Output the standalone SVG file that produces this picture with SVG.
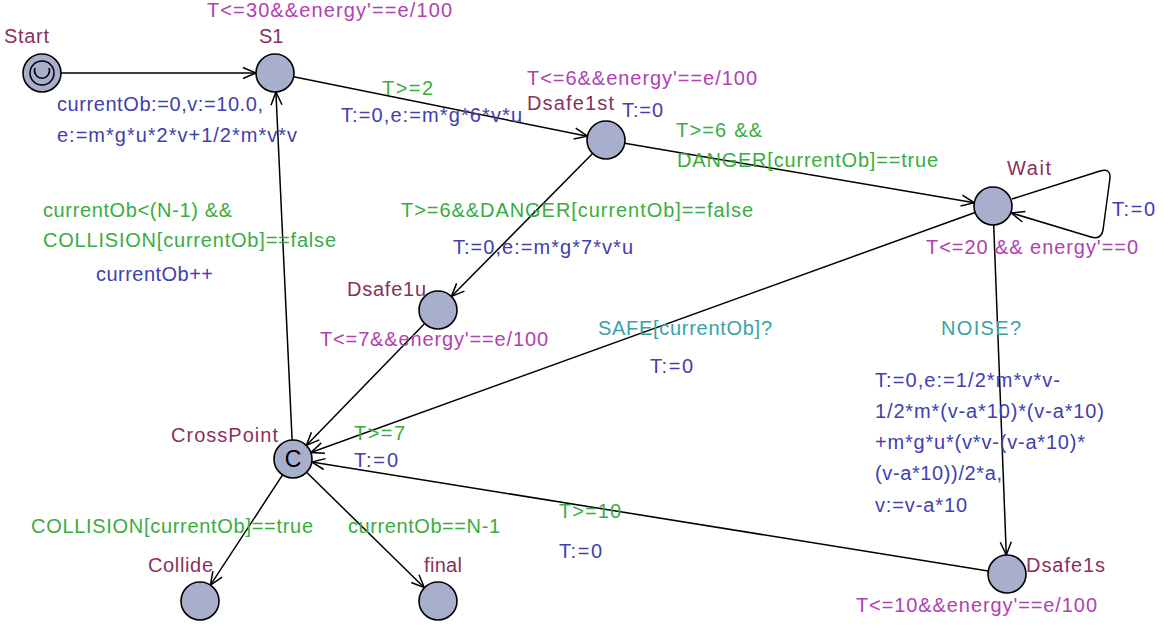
<svg xmlns="http://www.w3.org/2000/svg" width="1164" height="632" viewBox="0 0 1164 632">
  <style>
    text { font-family: "Liberation Sans", Arial, sans-serif; font-size: 20px; }
    .name { fill: #8b2f5c; }
    .inv { fill: #b041b0; }
    .guard { fill: #38ad3f; }
    .assign { fill: #4040b0; }
    .sync { fill: #36a3a8; }
    .loc { fill: #a8afcd; stroke: #000; stroke-width: 1.6; }
    .edge { fill: none; stroke: #000; stroke-width: 1.5; marker-end: url(#arrow); }
  </style>
  <defs>
    <marker id="arrow" markerUnits="userSpaceOnUse" viewBox="-14 -7 16 14" refX="0" refY="0" markerWidth="16" markerHeight="14" orient="auto">
      <path d="M-13,-5.5 L0,0 L-13,5.5" fill="none" stroke="#000" stroke-width="1.5"/>
    </marker>
  </defs>
  <rect width="1164" height="632" fill="#fff"/>

  <!-- transitions -->
  <g id="edges">
    <line class="edge" x1="61" y1="73" x2="256" y2="73"/>
    <line class="edge" x1="293.6" y1="76.8" x2="587.4" y2="136.2"/>
    <line class="edge" x1="624.7" y1="143.2" x2="974.3" y2="202.8"/>
    <path class="edge" d="M1012,199 L1100,171 Q1111,168 1110,178 L1103,230 Q1101,240 1091,237 L1011.5,213"/>
    <line class="edge" x1="592.6" y1="153.5" x2="451.4" y2="296.5"/>
    <line class="edge" x1="975.1" y1="212.5" x2="310.9" y2="452.5"/>
    <line class="edge" x1="424.7" y1="323.6" x2="306.3" y2="445.4"/>
    <line class="edge" x1="292.1" y1="440" x2="275.9" y2="92"/>
    <line class="edge" x1="993.7" y1="225" x2="1006.3" y2="555"/>
    <line class="edge" x1="988.2" y1="571" x2="311.8" y2="462"/>
    <line class="edge" x1="282.6" y1="474.9" x2="210.4" y2="585.1"/>
    <line class="edge" x1="306.6" y1="472.3" x2="424.4" y2="587.7"/>
  </g>

  <!-- transition labels -->
  <g id="edge-labels">
    <text class="assign" x="57" y="111" textLength="206" lengthAdjust="spacing">currentOb:=0,v:=10.0,</text>
    <text class="assign" x="57" y="142" textLength="240" lengthAdjust="spacing">e:=m*g*u*2*v+1/2*m*v*v</text>
    <text class="guard" x="382" y="95" textLength="51" lengthAdjust="spacing">T&gt;=2</text>
    <text class="assign" x="341" y="122" textLength="181" lengthAdjust="spacing">T:=0,e:=m*g*6*v*u</text>
    <text class="assign" x="622" y="117" textLength="41" lengthAdjust="spacing">T:=0</text>
    <text class="guard" x="676" y="137" textLength="86" lengthAdjust="spacing">T&gt;=6 &amp;&amp;</text>
    <text class="guard" x="677" y="167" textLength="261" lengthAdjust="spacing">DANGER[currentOb]==true</text>
    <text class="assign" x="1112" y="216" textLength="43" lengthAdjust="spacing">T:=0</text>
    <text class="guard" x="43" y="217" textLength="189" lengthAdjust="spacing">currentOb&lt;(N-1) &amp;&amp;</text>
    <text class="guard" x="43" y="247" textLength="293" lengthAdjust="spacing">COLLISION[currentOb]==false</text>
    <text class="assign" x="96" y="281" textLength="117" lengthAdjust="spacing">currentOb++</text>
    <text class="guard" x="401" y="217" textLength="352" lengthAdjust="spacing">T&gt;=6&amp;&amp;DANGER[currentOb]==false</text>
    <text class="assign" x="453" y="254" textLength="180" lengthAdjust="spacing">T:=0,e:=m*g*7*v*u</text>
    <text class="sync" x="598" y="335" textLength="174" lengthAdjust="spacing">SAFE[currentOb]?</text>
    <text class="assign" x="650" y="373" textLength="43" lengthAdjust="spacing">T:=0</text>
    <text class="sync" x="941" y="335" textLength="80" lengthAdjust="spacing">NOISE?</text>
    <text class="assign" x="875" y="387" textLength="185" lengthAdjust="spacing">T:=0,e:=1/2*m*v*v-</text>
    <text class="assign" x="875" y="418" textLength="229" lengthAdjust="spacing">1/2*m*(v-a*10)*(v-a*10)</text>
    <text class="assign" x="875" y="449" textLength="210" lengthAdjust="spacing">+m*g*u*(v*v-(v-a*10)*</text>
    <text class="assign" x="875" y="480" textLength="127" lengthAdjust="spacing">(v-a*10))/2*a,</text>
    <text class="assign" x="875" y="512" textLength="92" lengthAdjust="spacing">v:=v-a*10</text>
    <text class="guard" x="354" y="440" textLength="51" lengthAdjust="spacing">T&gt;=7</text>
    <text class="assign" x="354" y="467" textLength="44" lengthAdjust="spacing">T:=0</text>
    <text class="guard" x="559" y="518" textLength="62" lengthAdjust="spacing">T&gt;=10</text>
    <text class="assign" x="559" y="558" textLength="43" lengthAdjust="spacing">T:=0</text>
    <text class="guard" x="31" y="533" textLength="282" lengthAdjust="spacing">COLLISION[currentOb]==true</text>
    <text class="guard" x="348" y="533" textLength="152" lengthAdjust="spacing">currentOb==N-1</text>
  </g>

  <!-- locations -->
  <g id="Start">
    <circle class="loc" cx="42" cy="73" r="19"/>
    <circle cx="42" cy="73" r="12" fill="none" stroke="#000" stroke-width="1.5"/>
    <path d="M35,68 A7.5,7.5 0 1 0 49,68" fill="none" stroke="#000" stroke-width="1.5"/>
    <text class="name" x="4" y="43" textLength="45" lengthAdjust="spacing">Start</text>
  </g>
  <g id="S1">
    <circle class="loc" cx="275" cy="73" r="19"/>
    <text class="name" x="259" y="43">S1</text>
    <text class="inv" x="207" y="17" textLength="245" lengthAdjust="spacing">T&lt;=30&amp;&amp;energy'==e/100</text>
  </g>
  <g id="Dsafe1st">
    <circle class="loc" cx="606" cy="140" r="19"/>
    <text class="name" x="527" y="110" textLength="87" lengthAdjust="spacing">Dsafe1st</text>
    <text class="inv" x="527" y="85" textLength="230" lengthAdjust="spacing">T&lt;=6&amp;&amp;energy'==e/100</text>
  </g>
  <g id="Wait">
    <circle class="loc" cx="993" cy="206" r="19"/>
    <text class="name" x="1007" y="175" textLength="44" lengthAdjust="spacing">Wait</text>
    <text class="inv" x="926" y="254" textLength="212" lengthAdjust="spacing">T&lt;=20 &amp;&amp; energy'==0</text>
  </g>
  <g id="Dsafe1u">
    <circle class="loc" cx="438" cy="310" r="19"/>
    <text class="name" x="347" y="296" textLength="79" lengthAdjust="spacing">Dsafe1u</text>
    <text class="inv" x="320" y="346" textLength="228" lengthAdjust="spacing">T&lt;=7&amp;&amp;energy'==e/100</text>
  </g>
  <g id="CrossPoint">
    <circle class="loc" cx="293" cy="459" r="19"/>
    <text x="293" y="467" text-anchor="middle" style="font-size:23px" fill="#000">C</text>
    <text class="name" x="171" y="442" textLength="107" lengthAdjust="spacing">CrossPoint</text>
  </g>
  <g id="Dsafe1s">
    <circle class="loc" cx="1007" cy="574" r="19"/>
    <text class="name" x="1026" y="572" textLength="79" lengthAdjust="spacing">Dsafe1s</text>
    <text class="inv" x="856" y="612" textLength="241" lengthAdjust="spacing">T&lt;=10&amp;&amp;energy'==e/100</text>
  </g>
  <g id="Collide">
    <circle class="loc" cx="200" cy="601" r="19"/>
    <text class="name" x="148" y="572" textLength="65" lengthAdjust="spacing">Collide</text>
  </g>
  <g id="final">
    <circle class="loc" cx="438" cy="601" r="19"/>
    <text class="name" x="424" y="572" textLength="38" lengthAdjust="spacing">final</text>
  </g>
</svg>
